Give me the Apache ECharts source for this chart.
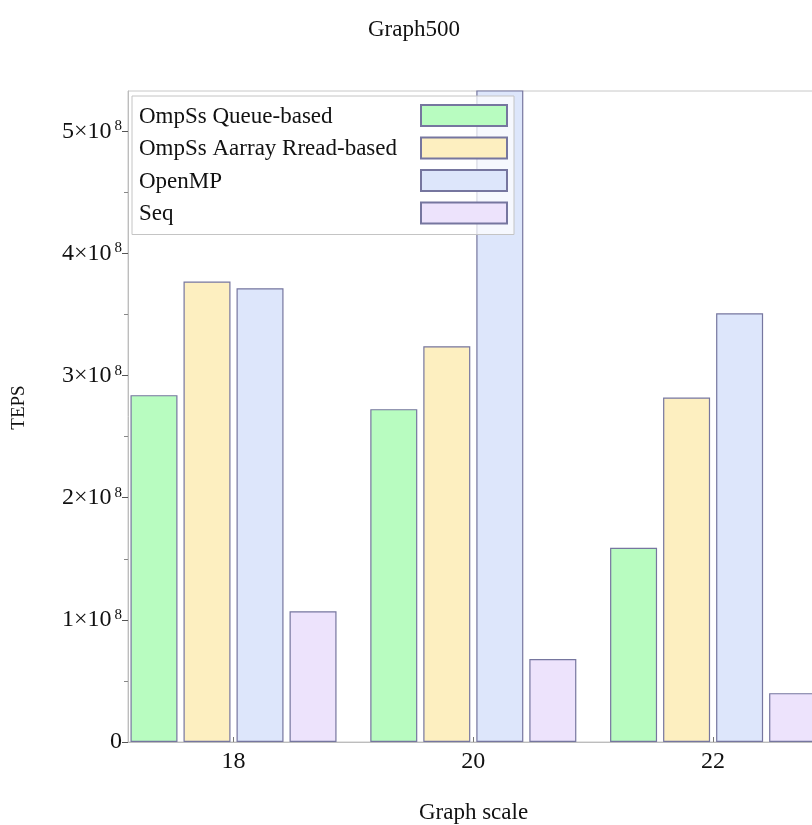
<!DOCTYPE html>
<html>
<head>
<meta charset="utf-8">
<script src="https://cdn.jsdelivr.net/npm/echarts@6/dist/echarts.min.js"></script>
<style>
  html, body { margin: 0; padding: 0; background: #fff; }
  #chart { width: 812px; height: 825px; }
</style>
</head>
<body>
<div id="chart"></div>
<script>
// Graph500 throughput (TEPS) by graph scale
const scales = [18, 20, 22];
const seriesNames = ['OmpSs Queue-based', 'OmpSs Aarray Rread-based', 'OpenMP', 'Seq'];
const queueBased = [2.84e8, 2.725e8, 1.59e8];
const arrayReadBased = [3.77e8, 3.24e8, 2.82e8];
const openMP = [3.715e8, 5.6e8, 3.51e8];
const seq = [1.07e8, 0.68e8, 0.40e8];
const yTicks = [0, 1e8, 2e8, 3e8, 4e8, 5e8];

const fills = ['#b8fcc0', '#fdefc0', '#dde6fb', '#ede3fc'];
const edge = '#76769f';
const font = 'Liberation Serif';
const values = [queueBased, arrayReadBased, openMP, seq];

const chart = echarts.init(document.getElementById('chart'));

chart.setOption({
  animation: false,
  backgroundColor: '#ffffff',
  title: {
    text: 'Graph500',
    left: 363,
    top: 13,
    textStyle: { fontFamily: font, fontWeight: 'normal', fontSize: 23, color: '#111' }
  },
  legend: {
    orient: 'vertical',
    left: 132,
    top: 96,
    align: 'right',
    padding: [8, 6, 9, 7],
    itemGap: 8.5,
    itemWidth: 86,
    itemHeight: 21,
    icon: 'rect',
    backgroundColor: 'rgba(255,255,255,0.72)',
    borderColor: '#c4c4c4',
    borderWidth: 1,
    formatter: name => '{t|' + name + '}',
    textStyle: {
      fontFamily: font, fontSize: 23, color: '#111',
      rich: { t: { fontFamily: font, fontSize: 23, color: '#111', width: 277, align: 'left', padding: [2, 0, 0, 0] } }
    },
    data: seriesNames
  },
  grid: {
    left: 128,
    right: -21,
    top: 91,
    bottom: 83,
    outerBoundsMode: 'none',
    containLabel: false,
    show: true,
    borderColor: '#c8c8c8',
    borderWidth: 1
  },
  xAxis: {
    type: 'value',
    min: 17.12,
    max: 23,
    name: 'Graph scale',
    nameLocation: 'middle',
    nameGap: 59,
    nameTextStyle: { fontFamily: font, fontSize: 23, color: '#111', padding: [0, 14, 0, 0] },
    axisLine: { show: true, lineStyle: { color: '#bdbdbd', width: 1 } },
    axisTick: { show: true, inside: true, length: 5, customValues: scales, lineStyle: { color: '#777' } },
    axisLabel: { customValues: scales, margin: 8, fontFamily: font, fontSize: 24, color: '#111' },
    splitLine: { show: false }
  },
  yAxis: {
    type: 'value',
    min: 0,
    max: 5.33e8,
    interval: 1e8,
    name: 'TEPS',
    nameLocation: 'middle',
    nameRotate: 90,
    nameGap: 99,
    nameTextStyle: { fontFamily: font, fontSize: 19, color: '#111', padding: [0, 0, 0, 18] },
    axisLine: { show: true, lineStyle: { color: '#bdbdbd', width: 1 } },
    axisTick: { show: true, length: 6, customValues: yTicks, lineStyle: { color: '#555' } },
    minorTick: { show: true, splitNumber: 2, length: 4, lineStyle: { color: '#888' } },
    splitLine: { show: false },
    axisLabel: {
      margin: 6,
      customValues: yTicks,
      formatter: v => v === 0 ? '{m|0}' : '{m|' + Math.round(v / 1e8) + '×10}{e|8}',
      rich: {
        m: { fontFamily: font, fontSize: 24, color: '#111' },
        e: { fontFamily: font, fontSize: 15, color: '#111', padding: [0, 0, 10, 3] }
      }
    }
  },
  series: seriesNames.map((name, i) => ({
    name,
    type: 'bar',
    barWidth: 47,
    barGap: '12.8%',
    clip: true,
    itemStyle: { color: fills[i], borderColor: edge, borderWidth: 1.2 },
    data: scales.map((s, k) => [s, values[i][k]])
  }))
});
</script>
</body>
</html>
